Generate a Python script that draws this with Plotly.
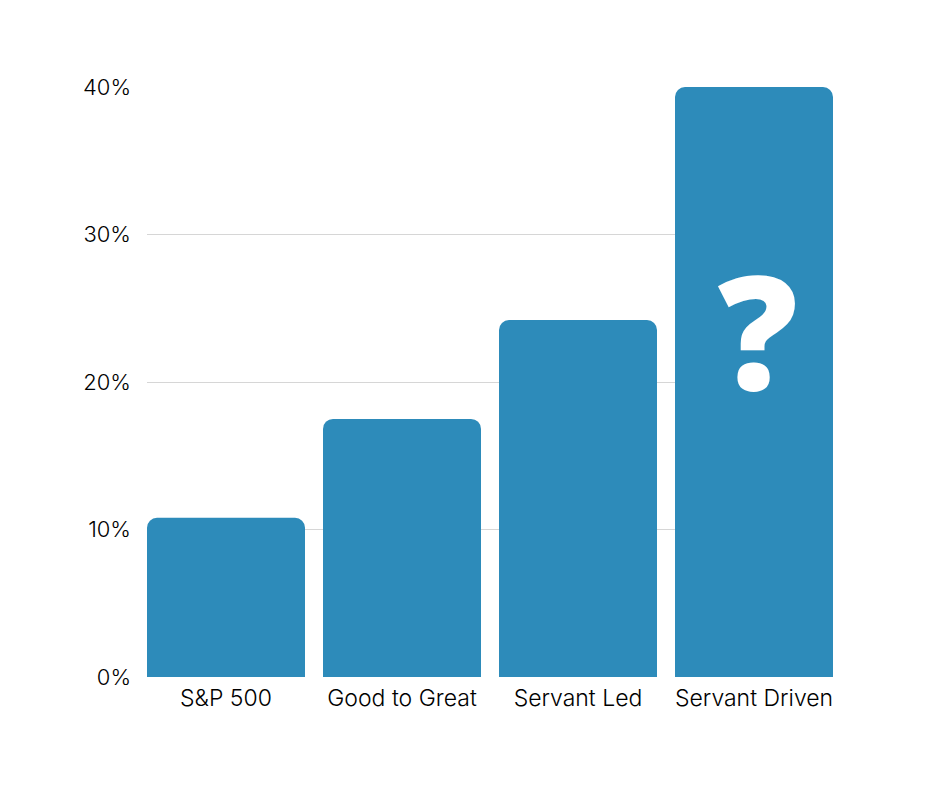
import plotly.graph_objects as go

categories = ["S&P 500", "Good to Great", "Servant Led", "Servant Driven"]
values = [10.8, 17.5, 24.2, 40.0]
y_ticks = [0, 10, 20, 30, 40]
y_tick_labels = ["0%", "10%", "20%", "30%", "40%"]
mystery_label = "?"

bar_color = "#2D8BBA"
gap = 18 / 176

fig = go.Figure(go.Bar(x=categories, y=values, marker=dict(color=bar_color, line=dict(width=0)),
                       hoverinfo="skip"))

fig.add_annotation(x=categories[-1], y=23.65, xref="x", yref="y", text=mystery_label, xshift=4,
                   showarrow=False, font=dict(family="Open Sans", size=158, color="white", weight=800),
                   yanchor="middle", xanchor="center")

fig.update_layout(
    width=924, height=772,
    margin=dict(l=139, r=99, t=79, b=103, autoexpand=False),
    paper_bgcolor="white", plot_bgcolor="white",
    bargap=gap, barcornerradius=10,
    showlegend=False,
    font=dict(family="Inter", size=23, color="#000000", weight=300),
)
fig.update_xaxes(range=[-0.5 + gap / 2, 3.5 - gap / 2], showgrid=False, showline=False, ticks="",
                 tickfont=dict(size=23, weight=300, color="#000000"), ticklabelstandoff=5)
fig.update_yaxes(range=[0, 40], tickvals=y_ticks, ticktext=y_tick_labels, showgrid=True,
                 gridcolor="#d6d6d6", gridwidth=1, zeroline=False, showline=False, ticks="",
                 tickfont=dict(size=22, weight=300, color="#000000"), ticklabelstandoff=15)

fig.write_html("out.html")
